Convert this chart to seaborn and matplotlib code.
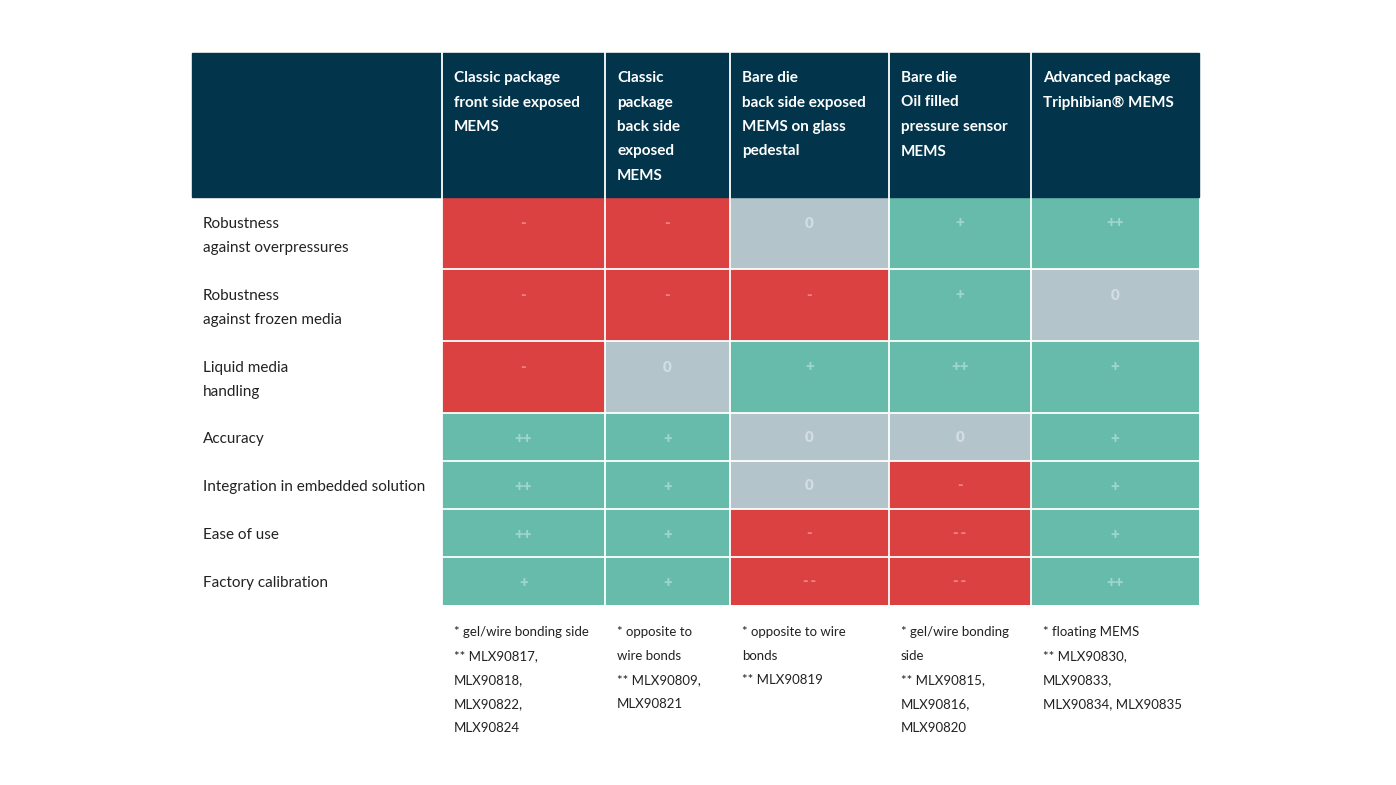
import numpy as np
import pandas as pd
import seaborn as sns
import matplotlib.pyplot as plt
from matplotlib.colors import ListedColormap
from matplotlib.patches import Rectangle

# ---- data ----
criteria = [
    "Robustness\nagainst overpressures",
    "Robustness\nagainst frozen media",
    "Liquid media\nhandling",
    "Accuracy",
    "Integration in embedded solution",
    "Ease of use",
    "Factory calibration",
]
packages = [
    "Classic package\nfront side exposed\nMEMS",
    "Classic\npackage\nback side\nexposed\nMEMS",
    "Bare die\nback side exposed\nMEMS on glass\npedestal",
    "Bare die\nOil filled\npressure sensor\nMEMS",
    "Advanced package\nTriphibian® MEMS",
]
classic_front = ["-", "-", "-", "++", "++", "++", "+"]
classic_back = ["-", "-", "0", "+", "+", "+", "+"]
bare_glass = ["0", "-", "+", "0", "0", "-", "--"]
bare_oil = ["+", "+", "++", "0", "-", "--", "--"]
advanced = ["++", "0", "+", "+", "+", "+", "++"]
footnotes = [
    "* gel/wire bonding side\n** MLX90817,\nMLX90818,\nMLX90822,\nMLX90824",
    "* opposite to\nwire bonds\n** MLX90809,\nMLX90821",
    "* opposite to wire\nbonds\n** MLX90819",
    "* gel/wire bonding\nside\n** MLX90815,\nMLX90816,\nMLX90820",
    "* floating MEMS\n** MLX90830,\nMLX90833,\nMLX90834, MLX90835",
]
score_of = {"--": -2, "-": -1, "0": 0, "+": 1, "++": 2}

symbols = pd.DataFrame(
    {p: c for p, c in zip(packages, [classic_front, classic_back, bare_glass, bare_oil, advanced])},
    index=criteria,
)
scores = symbols.apply(lambda col: col.map(score_of))

# ---- layout (pixels) ----
W, H = 1396, 785
left, top = 192, 53
label_w = 250
header_h = 144
col_w = [163, 125, 159, 142, 168]
row_units = [3, 3, 3, 2, 2, 2, 2]
unit = 24

navy = "#02354b"
red = "#db4141"
grey = "#b3c4cb"
teal = "#67bbab"
txt_col = {"-2": "#ea8583", "-1": "#ea8583", "0": "#d2dde1", "1": "#9ed6cb", "2": "#9ed6cb"}

x0 = left + label_w
y0 = top + header_h
col_edges = x0 + np.concatenate([[0], np.cumsum(col_w)])
row_edges = y0 + unit * np.concatenate([[0], np.cumsum(row_units)])

# expanded matrix so that the heatmap cells get the real widths / heights
big = np.repeat(scores.values, row_units, axis=0)
big = np.repeat(big, col_w, axis=1)

fig = plt.figure(figsize=(W / 100, H / 100), dpi=100)
fig.patch.set_facecolor("white")

hax = fig.add_axes([x0 / W, 1 - row_edges[-1] / H, sum(col_w) / W, (row_edges[-1] - y0) / H])
cmap = ListedColormap([red, red, grey, teal, teal])
sns.heatmap(big, cmap=cmap, vmin=-2.5, vmax=2.5, cbar=False, ax=hax,
            xticklabels=False, yticklabels=False)
hax.axis("off")

ax = fig.add_axes([0, 0, 1, 1])
ax.set_xlim(0, W)
ax.set_ylim(H, 0)
ax.axis("off")
ax.set_zorder(3)
ax.patch.set_alpha(0)

plt.rcParams["font.family"] = ["Lato", "DejaVu Sans"]

# header
ax.add_patch(Rectangle((left, top), label_w + sum(col_w), header_h, color=navy, zorder=1))
for j, name in enumerate(packages):
    for k, line in enumerate(name.split("\n")):
        ax.text(col_edges[j] + 12, top + 25 + k * 24.5, line, color="white",
                fontsize=11, fontweight="bold", va="center", ha="left", zorder=4)

# grid lines
for xe in col_edges[:-1]:
    ax.plot([xe, xe], [top, row_edges[-1]], color="white", lw=1.3, zorder=3)
for ye in row_edges[1:-1]:
    ax.plot([x0, col_edges[-1]], [ye, ye], color="white", lw=1.3, zorder=3)

# row labels and cell symbols
for i, crit in enumerate(criteria):
    r_top, r_bot = row_edges[i], row_edges[i + 1]
    tall = row_units[i] == 3
    lines = crit.split("\n")
    for k, line in enumerate(lines):
        yy = r_top + 27 + k * 24 if tall else (r_top + r_bot) / 2 + 2
        ax.text(left + 11, yy, line, fontsize=11, color="#222222", va="center", ha="left")
    sy = r_top + 26 if tall else (r_top + r_bot) / 2 + 1
    for j, p in enumerate(packages):
        s = symbols.loc[crit, p]
        shown = "-\u2009-" if s == "--" else s
        ax.text((col_edges[j] + col_edges[j + 1]) / 2, sy, shown,
                fontsize=11, fontweight="heavy", color=txt_col[str(score_of[s])],
                va="center", ha="center")

# footnotes
for j, note in enumerate(footnotes):
    for k, line in enumerate(note.split("\n")):
        ax.text(col_edges[j] + 12, row_edges[-1] + 27 + k * 24, line, fontsize=9.5,
                color="#222222", va="center", ha="left")

fig.savefig("out.png", dpi=100, facecolor="white")
